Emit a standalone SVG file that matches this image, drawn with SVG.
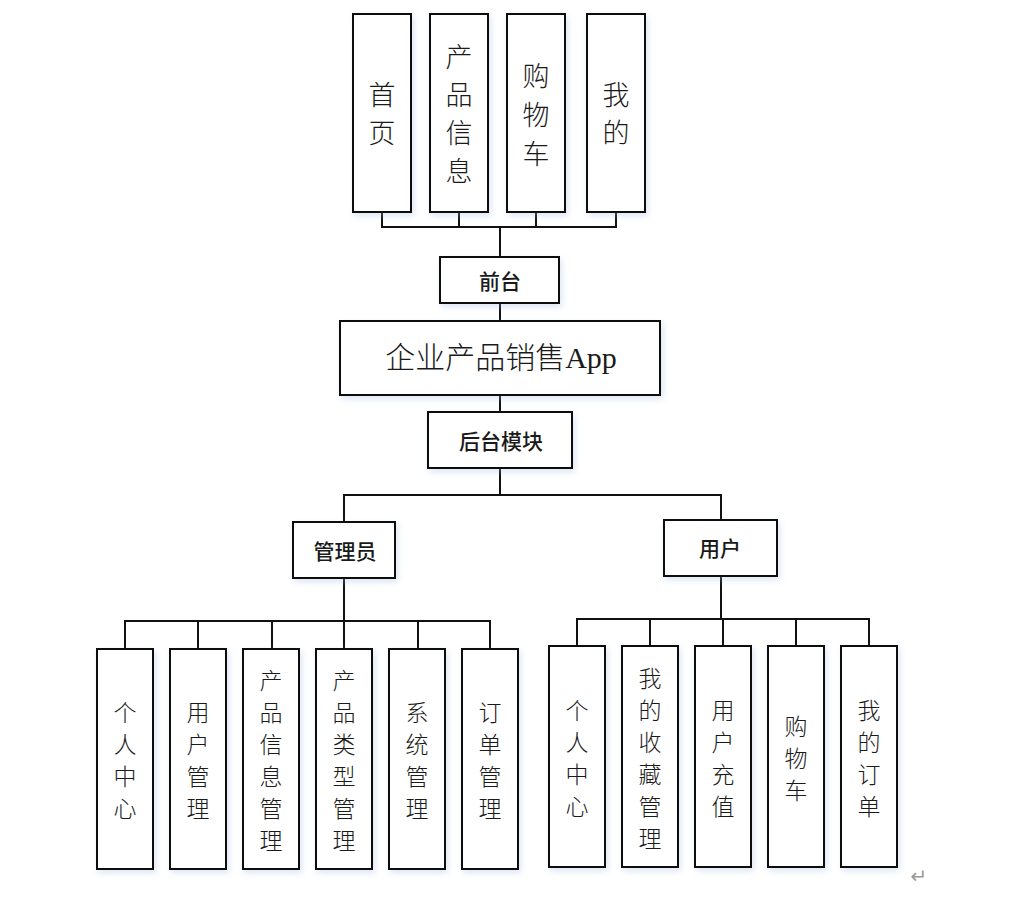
<svg xmlns="http://www.w3.org/2000/svg" width="1028" height="897" viewBox="0 0 1028 897">
<style>
.box{fill:#fff;stroke:#111;stroke-width:2;filter:url(#sh)}
.ln{fill:none;stroke:#111;stroke-width:2}
.t{font-family:"Noto Sans CJK SC","Noto Sans",sans-serif;fill:#1a1a1a;text-anchor:middle;dominant-baseline:central}
.top{font-size:27px;font-weight:300}
.mid{font-size:21px;font-weight:500}
.bot{font-size:23px;font-weight:300}
.title{font-family:"Liberation Serif","Noto Sans CJK SC",serif;font-size:30px;font-weight:300}
</style>
<defs>
<filter id="sh" x="-20%" y="-20%" width="140%" height="140%">
<feDropShadow dx="2" dy="3" stdDeviation="3" flood-color="#9ab8e0" flood-opacity="0.35"/>
</filter>
</defs>
<g id="connectors">
<path class="ln" d="M382 212V227H616V212M459 212V227M536 212V227M500 227V257"/>
<path class="ln" d="M500 303V321M500 395V412M500 468V495"/>
<path class="ln" d="M344 522V495H721V520"/>
<path class="ln" d="M344 578V621M125 649V621H490V649M198 621V649M272 621V649M344 621V649M418 621V649"/>
<path class="ln" d="M721 576V619M577 646V619H869V646M650 619V646M723 619V646M796 619V646"/>
</g>
<g id="n-shouye"><rect class="box" x="353" y="14" width="58" height="198"/>
<text class="t top"><tspan x="382" y="93">首</tspan><tspan x="382" y="131">页</tspan></text></g>
<g id="n-chanpinxinxi"><rect class="box" x="430" y="14" width="58" height="198"/>
<text class="t top"><tspan x="459" y="55">产</tspan><tspan x="459" y="93">品</tspan><tspan x="459" y="131">信</tspan><tspan x="459" y="169">息</tspan></text></g>
<g id="n-gouwuche"><rect class="box" x="507" y="14" width="58" height="198"/>
<text class="t top"><tspan x="536" y="74">购</tspan><tspan x="536" y="113">物</tspan><tspan x="536" y="152">车</tspan></text></g>
<g id="n-wode"><rect class="box" x="587" y="14" width="58" height="198"/>
<text class="t top"><tspan x="616" y="93">我</tspan><tspan x="616" y="131">的</tspan></text></g>
<g id="n-qiantai"><rect class="box" x="440" y="257" width="119" height="46"/>
<text class="t mid" x="500" y="280">前台</text></g>
<g id="n-app"><rect class="box" x="340" y="321" width="320" height="74"/>
<text class="t title" x="501" y="357">企业产品销售App</text></g>
<g id="n-houtai"><rect class="box" x="428" y="412" width="144" height="56"/>
<text class="t mid" x="501" y="440">后台模块</text></g>
<g id="n-admin"><rect class="box" x="293" y="522" width="102" height="56"/>
<text class="t mid" x="345" y="550">管理员</text></g>
<g id="n-user"><rect class="box" x="664" y="520" width="113" height="56"/>
<text class="t mid" x="720" y="547">用户</text></g>
<g id="n-a1"><rect class="box" x="97" y="649" width="56" height="220"/>
<text class="t bot"><tspan x="125" y="711">个</tspan><tspan x="125" y="743">人</tspan><tspan x="125" y="775">中</tspan><tspan x="125" y="807">心</tspan></text></g>
<g id="n-a2"><rect class="box" x="170" y="649" width="56" height="220"/>
<text class="t bot"><tspan x="198" y="711">用</tspan><tspan x="198" y="743">户</tspan><tspan x="198" y="775">管</tspan><tspan x="198" y="807">理</tspan></text></g>
<g id="n-a3"><rect class="box" x="243" y="649" width="56" height="220"/>
<text class="t bot"><tspan x="271" y="679">产</tspan><tspan x="271" y="711">品</tspan><tspan x="271" y="743">信</tspan><tspan x="271" y="775">息</tspan><tspan x="271" y="807">管</tspan><tspan x="271" y="839">理</tspan></text></g>
<g id="n-a4"><rect class="box" x="316" y="649" width="56" height="220"/>
<text class="t bot"><tspan x="344" y="679">产</tspan><tspan x="344" y="711">品</tspan><tspan x="344" y="743">类</tspan><tspan x="344" y="775">型</tspan><tspan x="344" y="807">管</tspan><tspan x="344" y="839">理</tspan></text></g>
<g id="n-a5"><rect class="box" x="389" y="649" width="56" height="220"/>
<text class="t bot"><tspan x="417" y="711">系</tspan><tspan x="417" y="743">统</tspan><tspan x="417" y="775">管</tspan><tspan x="417" y="807">理</tspan></text></g>
<g id="n-a6"><rect class="box" x="462" y="649" width="56" height="220"/>
<text class="t bot"><tspan x="490" y="711">订</tspan><tspan x="490" y="743">单</tspan><tspan x="490" y="775">管</tspan><tspan x="490" y="807">理</tspan></text></g>
<g id="n-u1"><rect class="box" x="549" y="646" width="56" height="221"/>
<text class="t bot"><tspan x="577" y="709">个</tspan><tspan x="577" y="741">人</tspan><tspan x="577" y="773">中</tspan><tspan x="577" y="805">心</tspan></text></g>
<g id="n-u2"><rect class="box" x="622" y="646" width="56" height="221"/>
<text class="t bot"><tspan x="650" y="677">我</tspan><tspan x="650" y="709">的</tspan><tspan x="650" y="741">收</tspan><tspan x="650" y="773">藏</tspan><tspan x="650" y="805">管</tspan><tspan x="650" y="837">理</tspan></text></g>
<g id="n-u3"><rect class="box" x="695" y="646" width="56" height="221"/>
<text class="t bot"><tspan x="723" y="709">用</tspan><tspan x="723" y="741">户</tspan><tspan x="723" y="773">充</tspan><tspan x="723" y="805">值</tspan></text></g>
<g id="n-u4"><rect class="box" x="768" y="646" width="56" height="221"/>
<text class="t bot"><tspan x="796" y="725">购</tspan><tspan x="796" y="757">物</tspan><tspan x="796" y="789">车</tspan></text></g>
<g id="n-u5"><rect class="box" x="841" y="646" width="56" height="221"/>
<text class="t bot"><tspan x="869" y="709">我</tspan><tspan x="869" y="741">的</tspan><tspan x="869" y="773">订</tspan><tspan x="869" y="805">单</tspan></text></g>
<text x="919" y="876" style="font-family:'DejaVu Sans',sans-serif;font-size:20px;fill:#999;text-anchor:middle;dominant-baseline:central">↵</text>
</svg>
